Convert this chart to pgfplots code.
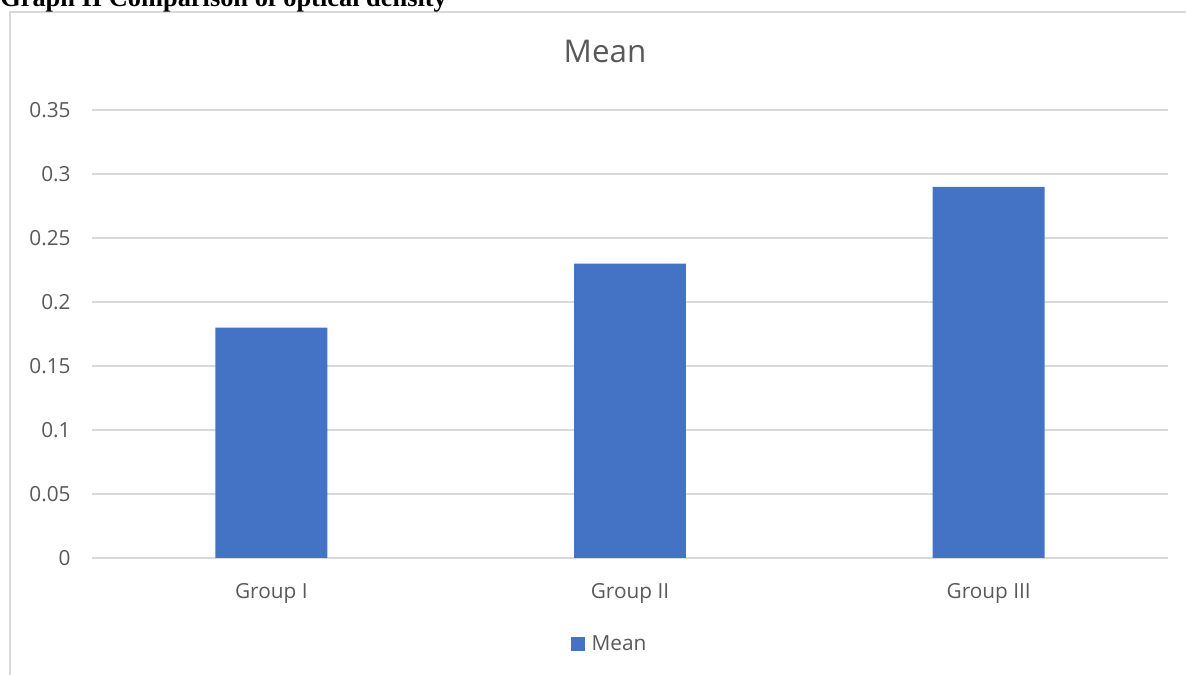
\documentclass[border=0pt]{standalone}
\usepackage{fontspec}
\setmainfont{Open Sans}
\newfontfamily\hdrfont{Liberation Serif}
\usepackage{pgfplots}
\pgfplotsset{compat=1.18}
\definecolor{barblue}{HTML}{4472C4}
\definecolor{gridgray}{HTML}{D9D9D9}
\definecolor{txtgray}{HTML}{595959}
\begin{document}
\begin{tikzpicture}[x=0.75pt,y=0.75pt]
\useasboundingbox (0,0) rectangle (1186,675);
\draw[gridgray, line width=1.1pt] (10,-5) -- (10,663) -- (1195,663);
\node[anchor=base west, inner sep=0pt, font=\hdrfont\bfseries\fontsize{19.8pt}{22pt}\selectfont] at (0,668) {Graph II Comparison of optical density};
\node[anchor=base, inner sep=0pt, text=txtgray, font=\fontsize{23.5pt}{27pt}\selectfont] at (605,612) {Mean};
\begin{axis}[
  at={(69pt,87.75pt)}, anchor=south west, scale only axis,
  width=807pt, height=336pt,
  ybar, bar width=0.312,
  xmin=-0.5, xmax=2.5, ymin=0, ymax=0.35,
  xtick={0,1,2}, xticklabels={Group I,Group II,Group III},
  ytick={0,0.05,0.1,0.15,0.2,0.25,0.3,0.35},
  yticklabels={0,0.05,0.1,0.15,0.2,0.25,0.3,0.35},
  axis line style={draw=none},
  tick style={draw=none},
  ymajorgrids, grid style={gridgray, line width=1pt},
  ticklabel style={text=txtgray, font=\fontsize{15.6pt}{18pt}\selectfont},
  yticklabel style={xshift=-12.5pt},
  xticklabel style={yshift=-11.5pt},
  legend style={at={(0.4815,-0.192)}, anchor=center, draw=none, fill=none,
    text=txtgray, font=\fontsize{15.6pt}{18pt}\selectfont,
    /tikz/every odd column/.append style={column sep=3pt}},
  legend image code/.code={\fill[#1,draw=none] (0pt,-5.25pt) rectangle (10.5pt,5.25pt);},
]
\addplot[fill=barblue, draw=none] coordinates {(0,0.18) (1,0.23) (2,0.29)};
\addlegendentry{Mean}
\end{axis}
\end{tikzpicture}
\end{document}
